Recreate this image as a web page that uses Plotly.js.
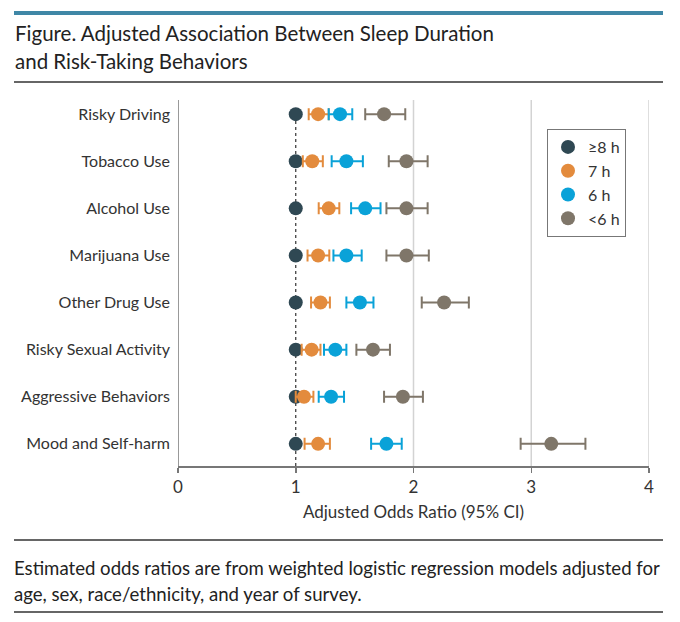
<!DOCTYPE html>
<html>
<head>
<meta charset="utf-8">
<script src="https://cdn.plot.ly/plotly-3.0.1.min.js"></script>
<style>html,body{margin:0;padding:0;background:#fff}#chart{width:680px;height:622px}</style>
</head>
<body>
<div id="chart"></div>
<script>
const categories = ['Risky Driving','Tobacco Use','Alcohol Use','Marijuana Use','Other Drug Use','Risky Sexual Activity','Aggressive Behaviors','Mood and Self-harm'];
const seriesNames = ['\u22658 h','7 h','6 h','<6 h'];
const or8 = [1,1,1,1,1,1,1,1];
const or7 = [1.19,1.14,1.28,1.19,1.21,1.135,1.07,1.19];
const lo7 = [1.11,1.06,1.195,1.10,1.13,1.05,1.00,1.075];
const hi7 = [1.28,1.23,1.37,1.285,1.29,1.21,1.15,1.29];
const or6 = [1.376,1.43,1.59,1.43,1.545,1.336,1.30,1.77];
const lo6 = [1.28,1.305,1.47,1.32,1.43,1.24,1.195,1.64];
const hi6 = [1.48,1.57,1.72,1.56,1.66,1.43,1.41,1.90];
const orL = [1.75,1.94,1.94,1.94,2.26,1.656,1.91,3.17];
const loL = [1.59,1.79,1.77,1.77,2.07,1.515,1.75,2.91];
const hiL = [1.93,2.12,2.12,2.13,2.47,1.80,2.08,3.46];
const xTicks = [0,1,2,3,4];
const refValue = 1;
const titleLines = ['Figure. Adjusted Association Between Sleep Duration','and Risk-Taking Behaviors'];
const noteLines = ['Estimated odds ratios are from weighted logistic regression models adjusted for','age, sex, race/ethnicity, and year of survey.'];

const colors = ['#2f4853','#e38b3d','#0aa2d8','#7f7669'];
const FONT = 'Lato, "Open Sans", sans-serif';

// plot area in pixels
const W = 680, H = 622;
const M = {l:178, r:31, t:100, b:156};
const pw = W - M.l - M.r, ph = H - M.t - M.b;
const px = x => (x - M.l) / pw;
const py = y => (H - M.b - y) / ph;

function trace(name, vals, lo, hi, color){
  const t = {type:'scatter', mode:'markers', name:name, x:vals, y:categories,
    marker:{color:color, size:14, line:{width:0}}, cliponaxis:false, hoverinfo:'none'};
  if (lo) {
    t.error_x = {type:'data', symmetric:false,
      array: hi.map((h,i)=>h-vals[i]), arrayminus: vals.map((v,i)=>v-lo[i]),
      color:color, thickness:2, width:6};
  }
  return t;
}
const data = [
  trace(seriesNames[0], or8, null, null, colors[0]),
  trace(seriesNames[1], or7, lo7, hi7, colors[1]),
  trace(seriesNames[2], or6, lo6, hi6, colors[2]),
  trace(seriesNames[3], orL, loL, hiL, colors[3])
];

const shapes = [];
xTicks.filter(v=>v>refValue).forEach(v=>shapes.push({type:'line', xref:'x', yref:'paper', x0:v, x1:v, y0:0, y1:1, line:{color:'#d3d3d3', width:1.5}, layer:'below'}));
shapes.push({type:'line', xref:'x', yref:'paper', x0:refValue, x1:refValue, y0:0, y1:0.95, line:{color:'#333', width:1.2, dash:'dot'}, layer:'below'});
shapes.push({type:'line', xref:'x', yref:'paper', x0:0, x1:0, y0:0, y1:1, line:{color:'#777', width:1.5}});
// rules
shapes.push({type:'line', xref:'paper', yref:'paper', x0:px(14), x1:px(663), y0:py(13), y1:py(13), line:{color:'#3f87a6', width:4}});
shapes.push({type:'line', xref:'paper', yref:'paper', x0:px(14), x1:px(663), y0:py(82), y1:py(82), line:{color:'#333', width:1.5}});
shapes.push({type:'line', xref:'paper', yref:'paper', x0:px(14), x1:px(663), y0:py(540), y1:py(540), line:{color:'#333', width:1.5}});
shapes.push({type:'line', xref:'paper', yref:'paper', x0:px(14), x1:px(663), y0:py(612), y1:py(612), line:{color:'#333', width:1.5}});

const annotations = [];
[33, 61].forEach((yy,i)=>annotations.push({xref:'paper', yref:'paper', x:px(13), y:py(yy), xanchor:'left', yanchor:'middle', showarrow:false, text:titleLines[i], font:{family:FONT, size:20.5, color:'#222'}}));
[568, 594].forEach((yy,i)=>annotations.push({xref:'paper', yref:'paper', x:px(12), y:py(yy), xanchor:'left', yanchor:'middle', showarrow:false, text:noteLines[i], font:{family:FONT, size:18.6, color:'#222'}}));

const layout = {
  width:W, height:H, margin:M, paper_bgcolor:'#fff', plot_bgcolor:'#fff',
  font:{family:FONT, color:'#333', size:16},
  showlegend:true,
  legend:{x:px(547), y:py(129), xanchor:'left', yanchor:'top', bordercolor:'#777', borderwidth:1,
    font:{size:16, color:'#333'}, bgcolor:'#fff', itemwidth:30, tracegroupgap:0},
  xaxis:{range:[0,4], tickvals:xTicks, ticktext:xTicks.map(String), showgrid:false, zeroline:false,
    showline:true, linecolor:'#777', linewidth:1.5, ticks:'outside', ticklen:5, tickcolor:'#777', tickwidth:1.5,
    tickfont:{size:17, color:'#333'}, title:{text:'Adjusted Odds Ratio (95% CI)', font:{size:17, color:'#333'}, standoff:10}, fixedrange:true},
  yaxis:{type:'category', categoryorder:'array', categoryarray:categories, range:[7.47,-0.3], showgrid:false, zeroline:false,
    showline:false, ticks:'', tickfont:{size:16, color:'#333'}, ticklabelstandoff:7, fixedrange:true},
  shapes:shapes, annotations:annotations
};

Plotly.newPlot('chart', data, layout, {staticPlot:true, displayModeBar:false});
</script>
</body>
</html>
